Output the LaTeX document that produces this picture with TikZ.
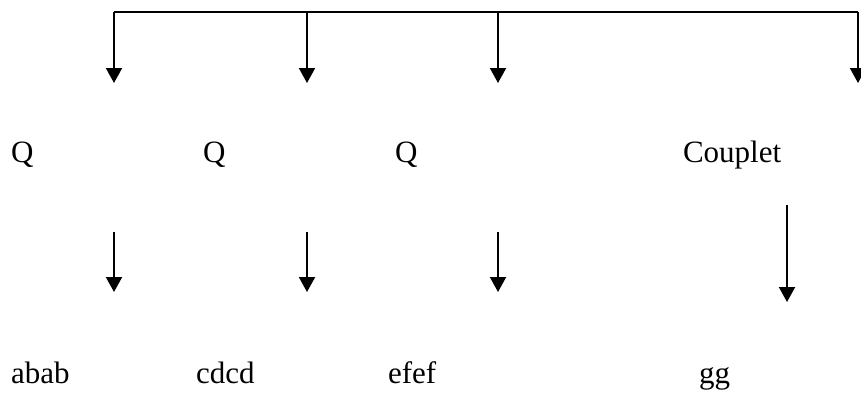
\documentclass[tikz,border=0pt]{standalone}
\usepackage{fontspec}
\setmainfont{Liberation Serif}
\usetikzlibrary{arrows.meta}
\tikzset{>={Triangle[width=16pt,length=15pt]}}
\tikzset{lbl/.style={anchor = base west, inner sep = 0pt, font = \fontsize{31}{36}\selectfont}}

\begin{document}
\begin{tikzpicture}[x=1pt, y=-1pt, line width = 2pt]
\useasboundingbox (0, 0) rectangle (861, 394);
% top bar and its four drops
\coordinate (t1) at (114, 12);
\coordinate (t2) at (307, 12);
\coordinate (t3) at (498, 12);
\coordinate (t4) at (858, 12);
\coordinate (d1) at (114, 83);
\coordinate (d2) at (307, 83);
\coordinate (d3) at (498, 83);
\coordinate (d4) at (858, 83);
\draw (t1) -- (t4);
\draw[->] (t1) -- (d1);
\draw[->] (t2) -- (d2);
\draw[->] (t3) -- (d3);
\draw[->] (t4) -- (d4);
% quatrains and couplet
\node[lbl] (q1) at (10, 162) {Q};
\node[lbl] (q2) at (202, 162) {Q};
\node[lbl] (q3) at (394, 162) {Q};
\node[lbl] (cp) at (682, 162) {Couplet};
% lower arrows
\coordinate (u1) at (114, 232);
\coordinate (u2) at (307, 232);
\coordinate (u3) at (498, 232);
\coordinate (u4) at (787, 205);
\coordinate (v1) at (114, 292);
\coordinate (v2) at (307, 292);
\coordinate (v3) at (498, 292);
\coordinate (v4) at (787, 302);
\draw[->] (u1) -- (v1);
\draw[->] (u2) -- (v2);
\draw[->] (u3) -- (v3);
\draw[->] (u4) -- (v4);
% rhyme schemes
\node[lbl] (r1) at (10, 383) {abab};
\node[lbl] (r2) at (195, 383) {cdcd};
\node[lbl] (r3) at (387, 383) {efef};
\node[lbl] (r4) at (698, 383) {gg};
\end{tikzpicture}
\end{document}
